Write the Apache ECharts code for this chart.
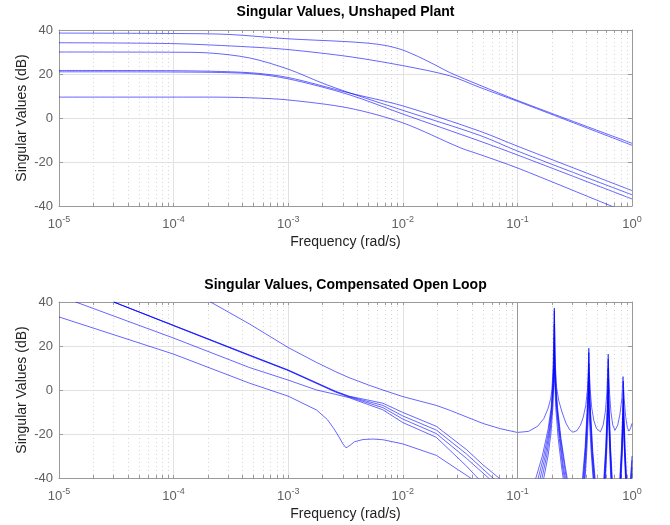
<!DOCTYPE html>
<html>
<head>
<meta charset="utf-8">
<script src="https://cdn.jsdelivr.net/npm/echarts@6/dist/echarts.min.js"></script>
<style>
html,body{margin:0;padding:0;background:#fff}
#chart{width:670px;height:525px}
</style>
</head>
<body>
<div id="chart"></div>
<script>
// axis ticks
var decades = [1e-5, 1e-4, 1e-3, 1e-2, 1e-1, 1];
var mantissas = [2, 3, 4, 5, 6, 7, 8, 9];
var dbTicks = [-40, -20, 0, 20, 40];

// Singular values, unshaped plant  [rad/s, dB]
var plantSv1 = [[1e-5,38.6],[1e-4,38.4],[3e-4,38.0],[1e-3,36.0],[3e-3,34.8],[5e-3,34.0],[7e-3,33.0],[8.5e-3,32.0],[1e-2,30.9],[1.2e-2,29.2],[1.5e-2,26.9],[2e-2,23.6],[2.56e-2,20.7],[4.7e-2,14.9],[1e-1,8.0],[1,-11.5]];
var plantSv2 = [[1e-5,34.2],[1e-4,33.8],[4.6e-4,32.3],[1e-3,31.1],[3.4e-3,27.9],[1e-2,23.8],[2.56e-2,19.2],[4.7e-2,13.9],[1e-1,7.6],[1,-12.4]];
var plantSv3 = [[1e-5,30.0],[1e-4,29.9],[2e-4,29.6],[4.6e-4,27.3],[1e-3,22.2],[2e-3,15.8],[3.4e-3,11.5],[1e-2,3.5],[4.7e-2,-7.9],[1e-1,-15.0],[1,-34.9]];
var plantSv4 = [[1e-5,21.6],[1e-4,21.5],[4.6e-4,20.6],[1e-3,18.4],[3.4e-3,11.4],[1e-2,5.5],[4.7e-2,-6.0],[1e-1,-12.8],[1,-33.0]];
var plantSv5 = [[1e-5,21.0],[1e-4,20.9],[4.6e-4,20.2],[1e-3,17.8],[3.4e-3,10.6],[1e-2,1.8],[4.7e-2,-10.5],[1e-1,-16.8],[1,-36.8]];
var plantSv6 = [[1e-5,9.5],[2e-4,9.5],[4.6e-4,9.2],[1e-3,8.2],[3.4e-3,4.5],[1e-2,-2.2],[3.2e-2,-13.6],[4.7e-2,-16.6],[1e-1,-22.7],[6.6e-1,-40],[1,-43.6]];

// Singular values, compensated open loop  [rad/s, dB]
var loopSv1 = [[2.1e-4,40],[4.6e-4,30],[1e-3,19.3],[1.77e-3,12.5],[2.6e-3,8.3],[3.4e-3,5.6],[5e-3,2.3],[6.7e-3,0],[1e-2,-3.0],[1.4e-2,-5.0],[1.96e-2,-7.0],[2.6e-2,-9.3],[3.58e-2,-12.2],[5e-2,-15.2],[7e-2,-17.5],[1e-1,-19.3],[1.25e-1,-18.8],[1.5e-1,-16.5],[1.7e-1,-13],[1.85e-1,-8.5],[1.95e-1,-4],[2e-1,0],[2.05e-1,10],[2.07e-1,22],[2.1e-1,37.3],[2.13e-1,22],[2.15e-1,10],[2.2e-1,1],[2.3e-1,-5],[2.45e-1,-10],[2.65e-1,-15],[2.85e-1,-18],[3.05e-1,-19.2],[3.3e-1,-18.5],[3.55e-1,-16],[3.75e-1,-12.5],[3.95e-1,-7],[4.08e-1,0],[4.15e-1,8],[4.2e-1,19],[4.25e-1,8],[4.32e-1,0],[4.45e-1,-8],[4.65e-1,-14],[4.9e-1,-17.5],[5.3e-1,-19],[5.6e-1,-16],[5.85e-1,-10],[6.02e-1,-2],[6.12e-1,6],[6.2e-1,16.3],[6.28e-1,6],[6.38e-1,-2],[6.55e-1,-10],[6.8e-1,-16],[7.1e-1,-18.3],[7.5e-1,-16],[7.85e-1,-11],[8.15e-1,-4],[8.35e-1,6.1],[8.55e-1,-4],[8.8e-1,-12],[9.1e-1,-17],[9.4e-1,-18.7],[9.7e-1,-17.5],[1,-15.2]];
var loopSv2 = [[3e-5,40],[1e-4,29.4],[4.6e-4,15.9],[1e-3,9.1],[2.6e-3,-0.6],[3.4e-3,-2.8],[6.7e-3,-6],[1e-2,-10.2],[1.96e-2,-16.5],[3.58e-2,-27],[5e-2,-34],[6.9e-2,-40],[1e-1,-47],[1.3e-1,-48],[1.45e-1,-40],[1.65e-1,-30],[1.85e-1,-18],[1.97e-1,-8],[2.04e-1,4],[2.08e-1,18],[2.1e-1,36],[2.12e-1,18],[2.16e-1,4],[2.24e-1,-8],[2.4e-1,-22],[2.6e-1,-34],[2.8e-1,-44],[3.2e-1,-50],[3.5e-1,-46],[3.7e-1,-40],[3.9e-1,-26],[4.05e-1,-10],[4.15e-1,4],[4.2e-1,17],[4.26e-1,4],[4.35e-1,-10],[4.55e-1,-28],[4.8e-1,-42],[5.3e-1,-50],[5.65e-1,-42],[5.9e-1,-26],[6.08e-1,-8],[6.2e-1,14],[6.32e-1,-8],[6.5e-1,-26],[6.75e-1,-42],[7.3e-1,-50],[7.8e-1,-42],[8.1e-1,-26],[8.3e-1,-10],[8.4e-1,4],[8.5e-1,-10],[8.7e-1,-26],[9e-1,-42],[9.5e-1,-48],[1,-30]];
var loopSv3 = [[3e-5,40],[1e-4,29.3],[4.6e-4,15.8],[1e-3,9.0],[2.6e-3,-0.8],[3.4e-3,-3.0],[6.7e-3,-7],[1e-2,-11.8],[1.96e-2,-18.2],[3.58e-2,-29],[6.1e-2,-40],[1e-1,-49],[1.35e-1,-48],[1.52e-1,-40],[1.7e-1,-30],[1.87e-1,-19],[1.98e-1,-9],[2.05e-1,3],[2.085e-1,14],[2.1e-1,30],[2.115e-1,14],[2.15e-1,3],[2.23e-1,-9],[2.38e-1,-22],[2.58e-1,-35],[2.75e-1,-44],[3.2e-1,-52],[3.55e-1,-47],[3.75e-1,-40],[3.93e-1,-26],[4.07e-1,-11],[4.15e-1,0],[4.2e-1,12],[4.25e-1,0],[4.34e-1,-11],[4.52e-1,-28],[4.75e-1,-42],[5.3e-1,-52],[5.7e-1,-42],[5.93e-1,-26],[6.1e-1,-9],[6.2e-1,10],[6.3e-1,-9],[6.47e-1,-26],[6.7e-1,-42],[7.3e-1,-52],[7.85e-1,-42],[8.12e-1,-27],[8.3e-1,-13],[8.4e-1,0],[8.5e-1,-13],[8.68e-1,-27],[8.95e-1,-42],[9.5e-1,-50],[1,-32]];
var loopSv4 = [[3e-5,40],[1e-4,29.2],[4.6e-4,15.6],[1e-3,8.8],[2.6e-3,-1.0],[3.4e-3,-3.2],[6.7e-3,-8],[1e-2,-13.2],[1.96e-2,-19.8],[3.58e-2,-31],[5.6e-2,-40],[1e-1,-50],[1.4e-1,-48],[1.58e-1,-40],[1.75e-1,-30],[1.9e-1,-19],[1.99e-1,-9],[2.06e-1,3],[2.09e-1,12],[2.1e-1,24],[2.11e-1,12],[2.14e-1,3],[2.22e-1,-9],[2.35e-1,-22],[2.52e-1,-35],[2.7e-1,-44],[3.2e-1,-53],[3.6e-1,-47],[3.8e-1,-40],[3.96e-1,-26],[4.09e-1,-11],[4.16e-1,-2],[4.2e-1,8],[4.24e-1,-2],[4.32e-1,-11],[4.48e-1,-28],[4.7e-1,-42],[5.3e-1,-53],[5.75e-1,-42],[5.96e-1,-26],[6.12e-1,-9],[6.2e-1,5],[6.28e-1,-9],[6.44e-1,-26],[6.65e-1,-42],[7.3e-1,-53],[7.9e-1,-42],[8.15e-1,-28],[8.32e-1,-15],[8.4e-1,-4],[8.48e-1,-15],[8.65e-1,-28],[8.9e-1,-42],[9.5e-1,-50],[1,-35]];
var loopSv5 = [[1.4e-5,40],[1e-4,23.6],[4.6e-4,10.2],[1e-3,4.5],[1.77e-3,0],[2.6e-3,-2],[3.4e-3,-3.5],[6.7e-3,-9],[1e-2,-14.8],[1.96e-2,-21.5],[3.58e-2,-34.5],[4.5e-2,-40],[1e-1,-52],[1.45e-1,-48],[1.64e-1,-40],[1.8e-1,-30],[1.93e-1,-19],[2.01e-1,-9],[2.07e-1,3],[2.1e-1,18],[2.13e-1,3],[2.2e-1,-9],[2.32e-1,-22],[2.48e-1,-35],[2.65e-1,-45],[3.2e-1,-54],[3.65e-1,-48],[3.85e-1,-40],[4e-1,-26],[4.11e-1,-12],[4.2e-1,4],[4.29e-1,-12],[4.45e-1,-28],[4.65e-1,-42],[5.3e-1,-54],[5.8e-1,-42],[6e-1,-26],[6.14e-1,-10],[6.2e-1,0],[6.26e-1,-10],[6.41e-1,-26],[6.6e-1,-42],[7.3e-1,-54],[7.95e-1,-42],[8.2e-1,-28],[8.34e-1,-16],[8.4e-1,-8],[8.46e-1,-16],[8.62e-1,-28],[8.85e-1,-42],[9.5e-1,-52],[1,-38]];
var loopSv6 = [[1e-5,33.2],[1e-4,16.3],[4.6e-4,3.1],[1e-3,-2.8],[1.77e-3,-9.1],[2.2e-3,-13.5],[2.5e-3,-17.5],[2.75e-3,-21],[3e-3,-24.5],[3.2e-3,-26.3],[3.45e-3,-25.2],[3.8e-3,-23.5],[4.5e-3,-22.5],[5.5e-3,-22.3],[6.7e-3,-22.6],[1e-2,-24.5],[1.96e-2,-29.7],[3.9e-2,-40],[1e-1,-54],[1.5e-1,-49],[1.7e-1,-40],[1.85e-1,-30],[1.96e-1,-20],[2.04e-1,-8],[2.1e-1,10],[2.16e-1,-8],[2.27e-1,-22],[2.43e-1,-35],[2.6e-1,-46],[3.2e-1,-56],[3.7e-1,-49],[3.9e-1,-40],[4.04e-1,-27],[4.14e-1,-14],[4.2e-1,0],[4.26e-1,-14],[4.4e-1,-28],[4.6e-1,-42],[5.3e-1,-56],[5.85e-1,-42],[6.03e-1,-27],[6.15e-1,-13],[6.2e-1,-5],[6.25e-1,-13],[6.38e-1,-27],[6.55e-1,-42],[7.3e-1,-56],[8e-1,-42],[8.23e-1,-29],[8.36e-1,-18],[8.4e-1,-12],[8.44e-1,-18],[8.6e-1,-29],[8.8e-1,-42],[9.5e-1,-54],[1,-42]];

var plantLines = [plantSv1, plantSv2, plantSv3, plantSv4, plantSv5, plantSv6];
var loopLines = [loopSv1, loopSv2, loopSv3, loopSv4, loopSv5, loopSv6];
var crossoverFreq = 0.1;

var minorFreqs = [];
decades.slice(0, -1).forEach(function (d) {
	mantissas.forEach(function (m) { minorFreqs.push(+(m * d).toPrecision(3)); });
});
var allFreqs = decades.concat(minorFreqs);

var fontFam = 'Liberation Sans, Arial, sans-serif';
var axisGray = '#9a9a9a';
var labelGray = '#606060';

var supMap = function (v) {
	var e = Math.round(Math.log(v) / Math.LN10);
	return '{b|10}{s|' + e + '}';
};

var grids = [
	{left: 59, top: 30, width: 573, height: 176, outerBoundsMode: 'none'},
	{left: 59, top: 302, width: 573, height: 176, outerBoundsMode: 'none'}
];

var xAxes = [], yAxes = [];
grids.forEach(function (g, gi) {
	var base = {type: 'log', logBase: 10, min: 1e-5, max: 1, gridIndex: gi, silent: true};
	// bottom: line, labels, all ticks
	xAxes.push(Object.assign({}, base, {
		position: 'bottom',
		name: 'Frequency (rad/s)', nameLocation: 'middle', nameGap: 29,
		nameTextStyle: {fontFamily: fontFam, fontSize: 14, color: '#222'},
		axisLine: {show: true, onZero: false, lineStyle: {color: axisGray, width: 1}},
		axisTick: {show: true, inside: true, length: 3, customValues: allFreqs, lineStyle: {color: axisGray}},
		axisLabel: {show: true, margin: 9, customValues: decades, formatter: supMap,
			rich: {
				b: {fontFamily: fontFam, fontSize: 13, color: labelGray, lineHeight: 16, verticalAlign: 'bottom'},
				s: {fontFamily: fontFam, fontSize: 9, color: labelGray, lineHeight: 8, verticalAlign: 'top'}
			}},
		splitLine: {show: false}
	}));
	// major grid
	xAxes.push(Object.assign({}, base, {
		position: 'bottom',
		axisLine: {show: false, onZero: false}, axisTick: {show: false}, axisLabel: {show: false},
		splitLine: {show: true, lineStyle: {color: '#e2e2e2', width: 1}}
	}));
	// minor grid
	xAxes.push(Object.assign({}, base, {
		position: 'bottom',
		axisLine: {show: false, onZero: false}, axisTick: {show: false, customValues: minorFreqs}, axisLabel: {show: false},
		splitLine: {show: true, lineStyle: {color: '#d6d6d6', width: 1, type: [1, 3]}}
	}));
	// top box edge
	xAxes.push(Object.assign({}, base, {
		position: 'top',
		axisLine: {show: true, onZero: false, lineStyle: {color: axisGray, width: 1}},
		axisTick: {show: true, inside: true, length: 3, customValues: allFreqs, lineStyle: {color: axisGray}},
		axisLabel: {show: false}, splitLine: {show: false}
	}));
	yAxes.push({
		type: 'value', gridIndex: gi, min: -40, max: 40, interval: 20, position: 'left', silent: true,
		name: 'Singular Values (dB)', nameLocation: 'middle', nameGap: 30, nameMoveOverlap: false,
		nameTextStyle: {fontFamily: fontFam, fontSize: 14, color: '#222'},
		axisLine: {show: true, onZero: false, lineStyle: {color: axisGray, width: 1}},
		axisTick: {show: true, inside: true, length: 4, lineStyle: {color: axisGray}},
		axisLabel: {show: true, margin: 6, fontFamily: fontFam, fontSize: 13, color: labelGray,
			customValues: dbTicks},
		splitLine: {show: true, lineStyle: {color: '#e2e2e2', width: 1}}
	});
	yAxes.push({
		type: 'value', gridIndex: gi, min: -40, max: 40, interval: 20, position: 'right', silent: true,
		axisLine: {show: true, onZero: false, lineStyle: {color: axisGray, width: 1}},
		axisTick: {show: true, inside: true, length: 4, lineStyle: {color: axisGray}},
		axisLabel: {show: false}, splitLine: {show: false}
	});
});

function svSeries(data, gi) {
	return {
		type: 'line', data: data, xAxisIndex: gi * 4, yAxisIndex: gi * 2,
		symbol: 'none', clip: true, silent: true, animation: false,
		lineStyle: {color: '#0000ff', width: 1, opacity: 0.6}
	};
}

var series = [];
plantLines.forEach(function (d) {
	var s = svSeries(d, 0);
	s.smooth = 0.3;
	series.push(s);
});
loopLines.forEach(function (d, i) {
	var s = svSeries(d, 1);
	if (i === 0) {
		s.markLine = {
			silent: true, symbol: 'none', label: {show: false}, animation: false,
			lineStyle: {color: '#999', width: 1, type: 'solid'},
			data: [{xAxis: crossoverFreq}]
		};
	}
	series.push(s);
});

var titleStyle = {fontFamily: fontFam, fontSize: 14, fontWeight: 'bold', fill: '#000', textAlign: 'center', textVerticalAlign: 'middle'};

var chart = echarts.init(document.getElementById('chart'), null, {renderer: 'canvas'});
chart.setOption({
	animation: false,
	backgroundColor: '#fff',
	grid: grids,
	xAxis: xAxes,
	yAxis: yAxes,
	series: series,
	graphic: [
		{type: 'text', x: 345.5, y: 12, style: Object.assign({text: 'Singular Values, Unshaped Plant'}, titleStyle)},
		{type: 'text', x: 345.5, y: 285, style: Object.assign({text: 'Singular Values, Compensated Open Loop'}, titleStyle)}
	]
});
</script>
</body>
</html>
